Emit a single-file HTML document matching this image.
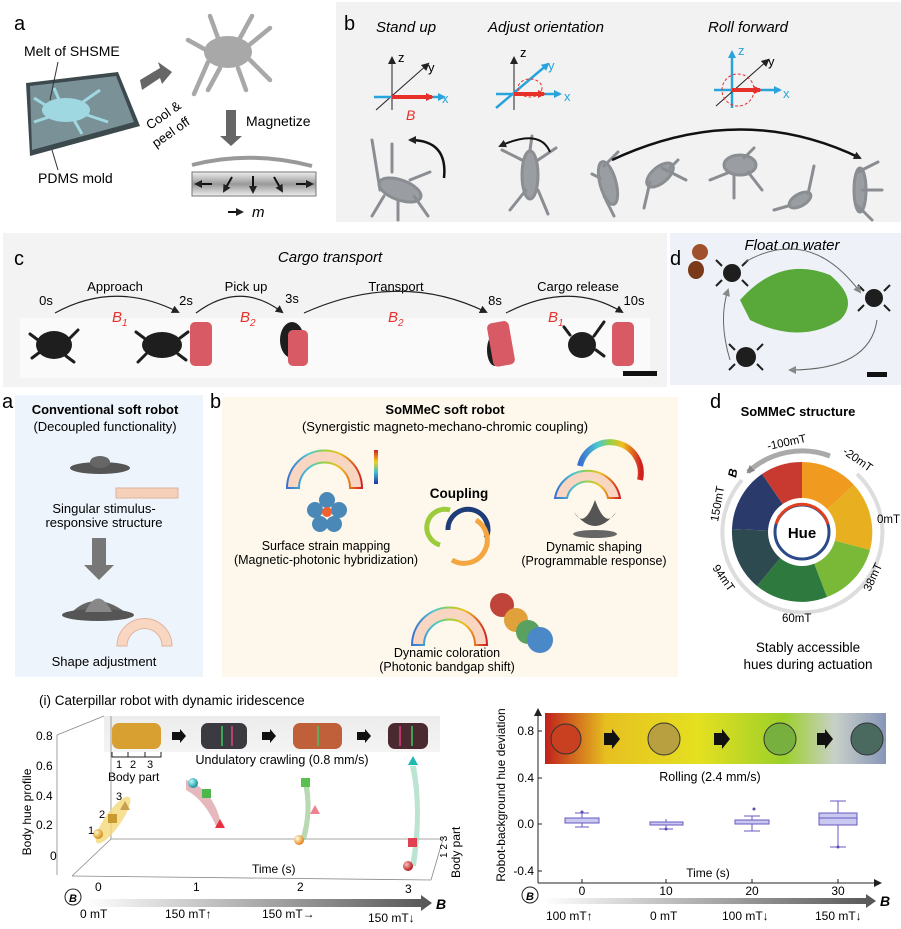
<!DOCTYPE html>
<html><head><meta charset="utf-8"><style>
html,body{margin:0;padding:0;background:#fff;}
svg{display:block;font-family:"Liberation Sans",Arial,sans-serif;}
</style></head><body>
<svg width="901" height="929" viewBox="0 0 901 929" xmlns="http://www.w3.org/2000/svg">
<defs>
<marker id="ah" markerWidth="8" markerHeight="8" refX="6" refY="4" orient="auto" markerUnits="userSpaceOnUse"><path d="M0,0 L8,4 L0,8 z" fill="#222"/></marker>
<marker id="ahb" markerWidth="8" markerHeight="8" refX="6" refY="4" orient="auto" markerUnits="userSpaceOnUse"><path d="M0,0 L8,4 L0,8 z" fill="#29a3dc"/></marker>
<marker id="ahr" markerWidth="8" markerHeight="8" refX="6" refY="4" orient="auto" markerUnits="userSpaceOnUse"><path d="M0,0 L8,4 L0,8 z" fill="#e8302a"/></marker>
<marker id="ahg" markerWidth="8" markerHeight="8" refX="6" refY="4" orient="auto" markerUnits="userSpaceOnUse"><path d="M0,0 L8,4 L0,8 z" fill="#888"/></marker>
<linearGradient id="gbar" x1="0" y1="0" x2="1" y2="0"><stop offset="0" stop-color="#fff"/><stop offset="1" stop-color="#555"/></linearGradient>
<linearGradient id="mag" x1="0" y1="0" x2="0" y2="1"><stop offset="0" stop-color="#eee"/><stop offset=".5" stop-color="#999"/><stop offset="1" stop-color="#eee"/></linearGradient>
<linearGradient id="roll" x1="0" y1="0" x2="1" y2="0"><stop offset="0" stop-color="#c0201c"/><stop offset=".18" stop-color="#e6c020"/><stop offset=".45" stop-color="#e5e020"/><stop offset=".7" stop-color="#9cd02a"/><stop offset=".85" stop-color="#c8d0c8"/><stop offset="1" stop-color="#8896b8"/></linearGradient>
<linearGradient id="rain" x1="0" y1="0" x2="1" y2="0"><stop offset="0" stop-color="#3b6fd0"/><stop offset=".3" stop-color="#4cc8d0"/><stop offset=".5" stop-color="#9ad040"/><stop offset=".7" stop-color="#f0c020"/><stop offset="1" stop-color="#d02020"/></linearGradient>
<linearGradient id="cbar" x1="0" y1="0" x2="0" y2="1"><stop offset="0" stop-color="#d02020"/><stop offset=".35" stop-color="#f0d020"/><stop offset=".65" stop-color="#40c0d0"/><stop offset="1" stop-color="#2030a0"/></linearGradient>
<linearGradient id="strip" x1="0" y1="0" x2="0" y2="1"><stop offset="0" stop-color="#ececec"/><stop offset="1" stop-color="#f4f4f4"/></linearGradient>
<radialGradient id="sph" cx=".35" cy=".35" r=".7"><stop offset="0" stop-color="#fff6c0"/><stop offset="1" stop-color="#d08a10"/></radialGradient>
<radialGradient id="sphT" cx=".35" cy=".35" r=".7"><stop offset="0" stop-color="#bff"/><stop offset="1" stop-color="#108898"/></radialGradient>
<radialGradient id="sphR" cx=".35" cy=".35" r=".7"><stop offset="0" stop-color="#fbb"/><stop offset="1" stop-color="#b01010"/></radialGradient>
<radialGradient id="sphO" cx=".35" cy=".35" r=".7"><stop offset="0" stop-color="#ffd"/><stop offset="1" stop-color="#e07a10"/></radialGradient>
</defs>

<!-- ===== Top panel a ===== -->
<text x="14" y="30" font-size="20">a</text>
<polygon points="26,83 118,72 140,126 30,156" fill="#3c4a4e"/>
<polygon points="30,86 116,76 134,122 32,150" fill="#7a9198"/>
<ellipse cx="66" cy="110" rx="24" ry="12" fill="#9fd8e0"/>
<path d="M50,108 l-16,-10 M52,116 l-18,6 M80,104 l20,-14 M84,114 l24,8 M60,102 l-6,-14 M74,120 l8,14" stroke="#9fd8e0" stroke-width="3" fill="none"/>
<text x="24" y="56" font-size="14">Melt of SHSME</text>
<line x1="58" y1="62" x2="50" y2="100" stroke="#333" stroke-width="1"/>
<text x="38" y="183" font-size="14">PDMS mold</text>
<line x1="58" y1="170" x2="52" y2="150" stroke="#333" stroke-width="1"/>
<polygon points="140,80 160,68 158,62 172,72 162,84 160,78 142,90" fill="#666"/>
<text x="150" y="130" font-size="13" transform="rotate(-35 150 130)">Cool &amp;</text>
<text x="156" y="148" font-size="13" transform="rotate(-35 156 148)">peel off</text>
<ellipse cx="228" cy="52" rx="24" ry="16" fill="#a8a8a8"/>
<path d="M206,50 l-18,-10 M208,62 l-14,32 M248,46 l22,-18 M250,60 l20,20 M220,68 l-12,22 M238,68 l8,22 M218,38 l-8,-22 M240,38 l12,-22" stroke="#a8a8a8" stroke-width="4.5" fill="none" stroke-linecap="round"/>
<polygon points="226,110 236,110 236,136 242,136 231,146 220,136 226,136" fill="#666"/>
<text x="246" y="126" font-size="14">Magnetize</text>
<path d="M192,165 Q250,150 312,166" stroke="#999" stroke-width="4" fill="none"/>
<rect x="192" y="172" width="124" height="24" fill="url(#mag)" stroke="#777"/>
<g stroke="#111" stroke-width="2" fill="none" marker-end="url(#ah)"><line x1="212" y1="184" x2="196" y2="184"/><line x1="232" y1="177" x2="224" y2="191"/><line x1="253" y1="176" x2="253" y2="192"/><line x1="274" y1="177" x2="282" y2="191"/><line x1="296" y1="184" x2="312" y2="184"/></g>
<line x1="228" y1="212" x2="242" y2="212" stroke="#111" stroke-width="2" marker-end="url(#ah)"/>
<text x="252" y="217" font-size="15" font-style="italic">m</text>

<!-- ===== Top panel b ===== -->
<rect x="336" y="2" width="565" height="220" fill="#f2f2f2"/>
<text x="344" y="30" font-size="20">b</text>
<text x="376" y="32" font-size="15" font-style="italic">Stand up</text>
<text x="488" y="32" font-size="15" font-style="italic">Adjust orientation</text>
<text x="708" y="32" font-size="15" font-style="italic">Roll forward</text>
<g stroke="#222" stroke-width="1" fill="none"><line x1="392" y1="110" x2="392" y2="58" marker-end="url(#ah)"/><line x1="376" y1="110" x2="428" y2="64" marker-end="url(#ah)"/></g>
<line x1="374" y1="97" x2="444" y2="97" stroke="#29a3dc" stroke-width="2.5" marker-end="url(#ahb)"/>
<line x1="392" y1="97" x2="432" y2="97" stroke="#e8302a" stroke-width="4" marker-end="url(#ahr)"/>
<text x="398" y="62" font-size="13">z</text><text x="428" y="72" font-size="13">y</text><text x="442" y="103" font-size="13" fill="#29a3dc">x</text>
<text x="406" y="120" font-size="14" font-style="italic" fill="#e8302a">B</text>
<g stroke="#222" stroke-width="1" fill="none"><line x1="514" y1="110" x2="514" y2="58" marker-end="url(#ah)"/></g>
<line x1="496" y1="108" x2="548" y2="64" stroke="#29a3dc" stroke-width="2.5" marker-end="url(#ahb)"/>
<line x1="496" y1="94" x2="560" y2="94" stroke="#29a3dc" stroke-width="2.5" marker-end="url(#ahb)"/>
<line x1="514" y1="94" x2="544" y2="94" stroke="#e8302a" stroke-width="4" marker-end="url(#ahr)"/>
<ellipse cx="530" cy="88" rx="12" ry="9" fill="none" stroke="#e8302a" stroke-dasharray="3,2"/>
<text x="520" y="57" font-size="13">z</text><text x="548" y="70" font-size="13" fill="#29a3dc">y</text><text x="564" y="101" font-size="13" fill="#29a3dc">x</text>
<line x1="732" y1="108" x2="732" y2="52" stroke="#29a3dc" stroke-width="2.5" marker-end="url(#ahb)"/>
<line x1="716" y1="106" x2="768" y2="60" stroke="#222" stroke-width="1" marker-end="url(#ah)"/>
<line x1="714" y1="90" x2="780" y2="90" stroke="#29a3dc" stroke-width="2.5" marker-end="url(#ahb)"/>
<line x1="732" y1="90" x2="760" y2="90" stroke="#e8302a" stroke-width="4" marker-end="url(#ahr)"/>
<circle cx="738" cy="90" r="16" fill="none" stroke="#e8302a" stroke-dasharray="3,2"/>
<text x="738" y="55" font-size="13" fill="#29a3dc">z</text><text x="768" y="66" font-size="13">y</text><text x="783" y="98" font-size="13" fill="#29a3dc">x</text>
<g fill="#9a9ea2" stroke="#8a8e92" stroke-width="3" stroke-linecap="round">
<ellipse cx="400" cy="190" rx="22" ry="10" transform="rotate(20 400 190)"/><path d="M380,190 l-8,-50 M384,196 l-12,20 M410,180 l20,-8 M414,196 l14,20 M398,200 l0,20 M392,172 l0,-28" fill="none"/>
<ellipse cx="530" cy="175" rx="8" ry="24"/><path d="M522,160 l-20,-10 M526,190 l-16,20 M538,160 l18,-12 M538,190 l10,24 M530,150 l2,-14" fill="none"/>
<ellipse cx="608" cy="183" rx="8" ry="22" transform="rotate(-15 608 183)"/><path d="M604,166 l14,-14 M604,196 l10,20 M600,178 l-8,-4" fill="none"/>
<ellipse cx="660" cy="175" rx="16" ry="8" transform="rotate(-40 660 175)"/><path d="M650,182 l-6,26 M662,168 l24,12 M670,168 l8,-8" fill="none"/>
<ellipse cx="740" cy="165" rx="16" ry="10"/><path d="M730,172 l-20,8 M748,172 l14,18 M744,158 l10,-10 M734,174 l0,24" fill="none"/>
<ellipse cx="800" cy="200" rx="12" ry="6" transform="rotate(-30 800 200)"/><path d="M788,206 l-14,4 M808,194 l6,-28" fill="none"/>
<ellipse cx="860" cy="190" rx="6" ry="22"/><path d="M858,172 l20,-10 M862,190 l20,0 M858,206 l14,14" fill="none"/>
</g>
<path d="M444,178 Q448,140 410,140" stroke="#111" stroke-width="2.5" fill="none" marker-end="url(#ah)"/>
<path d="M550,152 Q540,128 500,146" stroke="#111" stroke-width="2" fill="none" marker-end="url(#ah)"/>
<path d="M612,160 Q740,100 860,158" stroke="#111" stroke-width="2.5" fill="none" marker-end="url(#ah)"/>

<!-- ===== Panel c ===== -->
<rect x="3" y="233" width="664" height="154" fill="#f3f3f3"/>
<rect x="20" y="318" width="630" height="60" fill="#fafafa"/>
<text x="14" y="265" font-size="20">c</text>
<text x="330" y="262" font-size="15" font-style="italic" text-anchor="middle">Cargo transport</text>
<g font-size="13" text-anchor="middle"><text x="115" y="291">Approach</text><text x="246" y="291">Pick up</text><text x="396" y="291">Transport</text><text x="578" y="291">Cargo release</text>
<text x="46" y="305">0s</text><text x="186" y="305">2s</text><text x="292" y="303">3s</text><text x="495" y="305">8s</text><text x="634" y="305">10s</text></g>
<g stroke="#222" stroke-width="1.2" fill="none" marker-end="url(#ah)"><path d="M55,313 Q115,280 178,312"/><path d="M196,313 Q240,280 282,312"/><path d="M304,313 Q400,270 486,312"/><path d="M506,313 Q570,280 622,312"/></g>
<g font-size="15" font-style="italic" fill="#e8302a"><text x="112" y="322">B<tspan font-size="10" dy="4">1</tspan></text><text x="240" y="322">B<tspan font-size="10" dy="4">2</tspan></text><text x="388" y="322">B<tspan font-size="10" dy="4">2</tspan></text><text x="548" y="322">B<tspan font-size="10" dy="4">1</tspan></text></g>
<g fill="#1e1e1e"><ellipse cx="54" cy="345" rx="18" ry="14"/><ellipse cx="162" cy="345" rx="20" ry="13"/><ellipse cx="292" cy="340" rx="12" ry="18"/><ellipse cx="495" cy="350" rx="8" ry="16"/><ellipse cx="582" cy="345" rx="14" ry="13"/></g>
<g stroke="#1e1e1e" stroke-width="3" fill="none" stroke-linecap="round"><path d="M38,340 l-8,-6 M40,352 l-8,6 M70,338 l8,-8 M66,356 l8,6"/><path d="M144,338 l-8,-6 M146,354 l-8,8 M180,338 l8,-6 M178,354 l8,6"/><path d="M570,335 l-6,-8 M594,336 l10,-14 M596,350 l8,6"/></g>
<g fill="#d85a64"><rect x="190" y="322" width="22" height="44" rx="5"/><rect x="288" y="330" width="20" height="36" rx="5"/><rect x="490" y="322" width="22" height="44" rx="5" transform="rotate(-10 500 344)"/><rect x="612" y="322" width="22" height="44" rx="5"/></g>
<rect x="623" y="371" width="34" height="5" fill="#111"/>

<!-- ===== Panel d (top) ===== -->
<rect x="670" y="233" width="231" height="152" fill="#eef2f8"/>
<text x="670" y="265" font-size="20">d</text>
<text x="792" y="250" font-size="15" font-style="italic" text-anchor="middle">Float on water</text>
<ellipse cx="700" cy="252" rx="8" ry="8" fill="#a0502a"/><ellipse cx="696" cy="270" rx="8" ry="9" fill="#7a3a1a"/>
<path d="M740,300 Q780,255 830,275 Q860,300 840,320 Q800,345 750,320 Z" fill="#58a83a"/>
<g fill="#1e1e1e"><circle cx="732" cy="273" r="9"/><circle cx="874" cy="298" r="9"/><circle cx="746" cy="357" r="10"/></g>
<g stroke="#1e1e1e" stroke-width="2" fill="none"><path d="M722,266 l-6,-6 M742,266 l6,-6 M722,280 l-6,6 M742,280 l6,6"/><path d="M864,291 l-6,-6 M884,291 l6,-6 M864,305 l-6,6 M884,305 l6,6"/><path d="M735,350 l-6,-6 M757,350 l6,-6 M735,364 l-6,6 M757,364 l6,6"/></g>
<g stroke="#666" stroke-width="1" fill="none" marker-end="url(#ahg)"><path d="M745,262 Q810,225 860,292"/><path d="M877,320 Q870,370 790,370"/><path d="M730,360 Q718,320 728,290"/></g>
<rect x="867" y="372" width="20" height="5" fill="#111"/>

<!-- ===== Lower a ===== -->
<text x="2" y="408" font-size="20">a</text>
<rect x="15" y="395" width="188" height="282" fill="#eef4fb"/>
<text x="105" y="414" font-size="13" font-weight="bold" text-anchor="middle">Conventional soft robot</text>
<text x="105" y="431" font-size="13" text-anchor="middle">(Decoupled functionality)</text>
<ellipse cx="100" cy="468" rx="30" ry="6" fill="#555"/><ellipse cx="100" cy="462" rx="10" ry="6" fill="#666"/>
<rect x="116" y="488" width="62" height="10" fill="#f6d0b8" stroke="#d9b49c"/>
<text x="104" y="513" font-size="13" text-anchor="middle">Singular stimulus-</text>
<text x="104" y="527" font-size="13" text-anchor="middle">responsive structure</text>
<polygon points="92,538 106,538 106,565 114,565 99,580 84,565 92,565" fill="#777"/>
<path d="M72,612 Q95,590 125,612 Z" fill="#666"/><ellipse cx="98" cy="615" rx="36" ry="6" fill="#555"/><path d="M85,612 Q98,585 112,612" fill="#888"/>
<path d="M117,646 A20,20 0 0 1 172,646 L162,646 A12,12 0 0 0 127,646 Z" fill="#f9d6c2" stroke="#e0b49c"/>
<text x="104" y="666" font-size="13" text-anchor="middle">Shape adjustment</text>

<!-- ===== Lower b ===== -->
<text x="210" y="408" font-size="20">b</text>
<rect x="222" y="397" width="456" height="280" fill="#fdf8eb"/>
<text x="445" y="414" font-size="13" font-weight="bold" text-anchor="middle">SoMMeC soft robot</text>
<text x="445" y="431" font-size="13" text-anchor="middle">(Synergistic magneto-mechano-chromic coupling)</text>
<path d="M287,488 A37,37 0 0 1 362,488 L350,488 A25,25 0 0 0 299,488 Z" fill="#f9d6c2" stroke="url(#rain)" stroke-width="2"/>
<rect x="374" y="450" width="4" height="34" fill="url(#cbar)"/>
<g fill="#4a88b8"><circle cx="327" cy="500" r="8"/><circle cx="315" cy="510" r="8"/><circle cx="339" cy="510" r="8"/><circle cx="320" cy="524" r="8"/><circle cx="334" cy="524" r="8"/></g><circle cx="327" cy="512" r="5" fill="#f06030"/>
<text x="326" y="550" font-size="12.5" text-anchor="middle">Surface strain mapping</text>
<text x="326" y="564" font-size="12.5" text-anchor="middle">(Magnetic-photonic hybridization)</text>
<text x="459" y="498" font-size="13.5" font-weight="bold" text-anchor="middle">Coupling</text>
<path d="M440,545 A18,18 0 1 1 450,510" stroke="#9ccc3c" stroke-width="5" fill="none"/>
<path d="M486,538 A20,20 0 1 0 448,530" stroke="#1e3c78" stroke-width="5" fill="none"/>
<path d="M452,560 A18,18 0 1 0 476,520" stroke="#f4a640" stroke-width="5" fill="none"/>
<path d="M555,498 A33,33 0 0 1 620,498 L608,498 A21,21 0 0 0 567,498 Z" fill="#f9d6c2" stroke="url(#rain)" stroke-width="2"/>
<path d="M580,466 A22,22 0 0 1 640,480" stroke="url(#rain)" stroke-width="6" fill="none"/>
<path d="M574,512 Q595,540 616,512 Q606,530 595,500 Q584,530 574,512 Z" fill="#555"/><ellipse cx="595" cy="534" rx="22" ry="4" fill="#666"/>
<text x="594" y="551" font-size="12.5" text-anchor="middle">Dynamic shaping</text>
<text x="594" y="565" font-size="12.5" text-anchor="middle">(Programmable response)</text>
<path d="M412,645 A37,37 0 0 1 487,645 L475,645 A25,25 0 0 0 424,645 Z" fill="#f9d6c2" stroke="url(#rain)" stroke-width="2"/>
<g><circle cx="502" cy="605" r="12" fill="#c0443a"/><circle cx="516" cy="620" r="12" fill="#e0a03a"/><circle cx="528" cy="632" r="12" fill="#5aa060"/><circle cx="540" cy="640" r="13" fill="#4a88c8"/></g>
<text x="447" y="657" font-size="12.5" text-anchor="middle">Dynamic coloration</text>
<text x="447" y="671" font-size="12.5" text-anchor="middle">(Photonic bandgap shift)</text>

<!-- ===== Lower d ===== -->
<text x="710" y="408" font-size="20">d</text>
<text x="798" y="416" font-size="13" font-weight="bold" text-anchor="middle">SoMMeC structure</text>
<g transform="translate(802,532)">
<path d="M0,0 L0,-70 A70,70 0 0 1 52,-47 Z" fill="#f09a20"/>
<path d="M0,0 L52,-47 A70,70 0 0 1 68,18 Z" fill="#e8b020"/>
<path d="M0,0 L68,18 A70,70 0 0 1 25,65 Z" fill="#7ab838"/>
<path d="M0,0 L25,65 A70,70 0 0 1 -45,54 Z" fill="#2e7a3e"/>
<path d="M0,0 L-45,54 A70,70 0 0 1 -70,-3 Z" fill="#2c4a50"/>
<path d="M0,0 L-70,-3 A70,70 0 0 1 -40,-58 Z" fill="#2a3a6a"/>
<path d="M0,0 L-40,-58 A70,70 0 0 1 0,-70 Z" fill="#c83a30"/>
<circle r="34" fill="#fff"/>
<circle r="27" fill="none" stroke="#2a4a8a" stroke-width="3"/>
<path d="M-26,-8 A27,27 0 0 1 26,-8" stroke="#e04020" stroke-width="3" fill="none"/>
<text x="0" y="6" font-size="15" font-weight="bold" text-anchor="middle">Hue</text>
<path d="M-60,-52 A80,80 0 1 0 55,-58" stroke="#ddd" stroke-width="4" fill="none"/>
<path d="M28,-76 A80,80 0 0 0 -54,-60" stroke="#aaa" stroke-width="5" fill="none" marker-end="url(#ahg)"/>
</g>
<g font-size="11.5"><text x="768" y="450" transform="rotate(-12 768 450)">-100mT</text><text x="842" y="453" transform="rotate(35 842 453)">-20mT</text><text x="877" y="523">0mT</text><text x="870" y="592" transform="rotate(-65 870 592)">38mT</text><text x="782" y="622">60mT</text><text x="712" y="568" transform="rotate(55 712 568)">94mT</text><text x="718" y="522" transform="rotate(-80 718 522)">150mT</text></g>
<text x="736" y="478" font-size="12" font-weight="bold" font-style="italic" transform="rotate(-80 736 478)">B</text>
<text x="808" y="652" font-size="13.5" text-anchor="middle">Stably accessible</text>
<text x="808" y="669" font-size="13.5" text-anchor="middle">hues during actuation</text>

<!-- ===== Bottom left ===== -->
<text x="39" y="705" font-size="13.5">(i) Caterpillar robot with dynamic iridescence</text>
<rect x="104" y="716" width="336" height="36" fill="url(#strip)"/>
<g><rect x="112" y="723" width="49" height="26" rx="7" fill="#d8a030"/><rect x="201" y="723" width="46" height="26" rx="7" fill="#3a3a40"/><rect x="293" y="723" width="49" height="26" rx="7" fill="#c0603a"/><rect x="388" y="723" width="40" height="26" rx="7" fill="#4a2a30"/></g>
<g stroke="#3cc860" stroke-width="1.5"><line x1="222" y1="726" x2="222" y2="746"/><line x1="318" y1="726" x2="318" y2="746"/><line x1="412" y1="726" x2="412" y2="746"/></g>
<g stroke="#e04080" stroke-width="1.5"><line x1="232" y1="726" x2="232" y2="746"/><line x1="400" y1="726" x2="400" y2="746"/></g>
<g fill="#111"><polygon points="172,732 180,732 180,729 186,736 180,743 180,740 172,740"/><polygon points="262,732 270,732 270,729 276,736 270,743 270,740 262,740"/><polygon points="357,732 365,732 365,729 371,736 365,743 365,740 357,740"/></g>
<path d="M112,752 v5 h49 v-5 M128,752 v5 M145,752 v5" stroke="#222" fill="none"/>
<text x="116" y="768" font-size="11">1</text><text x="130" y="768" font-size="11">2</text><text x="147" y="768" font-size="11">3</text>
<text x="108" y="781" font-size="12">Body part</text>
<text x="282" y="764" font-size="12.5" text-anchor="middle">Undulatory crawling (0.8 mm/s)</text>
<g stroke="#888" stroke-width="0.8" fill="none"><line x1="57" y1="735" x2="57" y2="875"/><line x1="57" y1="735" x2="104" y2="716"/><line x1="111" y1="716" x2="111" y2="839"/><line x1="111" y1="839" x2="443" y2="839"/><line x1="72" y1="876" x2="431" y2="880"/><line x1="72" y1="876" x2="111" y2="839"/><line x1="431" y1="880" x2="443" y2="839"/></g>
<g font-size="12"><text x="36" y="740">0.8</text><text x="36" y="770">0.6</text><text x="36" y="800">0.4</text><text x="36" y="829">0.2</text><text x="50" y="860">0</text>
<text x="95" y="891">0</text><text x="193" y="891">1</text><text x="297" y="891">2</text><text x="405" y="893">3</text></g>
<text x="31" y="812" font-size="12" text-anchor="middle" transform="rotate(-90 31 812)">Body hue profile</text>
<text x="252" y="873" font-size="12">Time (s)</text>
<text x="460" y="878" font-size="12" transform="rotate(-90 460 878)">Body part</text>
<text x="447" y="858" font-size="10" transform="rotate(-90 447 858)">1 2 3</text>
<ellipse cx="113" cy="820" rx="8" ry="28" fill="#f2d878" opacity=".8" transform="rotate(35 113 820)"/>
<circle cx="98" cy="834" r="5" fill="url(#sph)"/><rect x="108" y="814" width="9" height="9" fill="#c89a30"/><polygon points="125,801 130,810 120,810" fill="#c8a050"/>
<text x="88" y="834" font-size="11">1</text><text x="99" y="818" font-size="11">2</text><text x="116" y="800" font-size="11">3</text>
<path d="M186,780 Q215,790 222,828 L217,828 Q205,800 186,790 Z" fill="#d89aa0" opacity=".7"/>
<circle cx="193" cy="783" r="5" fill="url(#sphT)"/><rect x="202" y="789" width="9" height="9" fill="#4cb84c"/><polygon points="220,819 225,828 215,828" fill="#e83040"/>
<path d="M302,780 Q310,810 300,840 L306,840 Q314,810 308,780 Z" fill="#a8d0a0" opacity=".8"/>
<rect x="301" y="778" width="9" height="9" fill="#5ac050"/><polygon points="315,805 320,814 310,814" fill="#f08090"/><circle cx="299" cy="840" r="5" fill="url(#sphO)"/>
<path d="M410,766 Q420,810 410,866 L416,866 Q424,810 416,766 Z" fill="#a0d8c0" opacity=".7"/>
<polygon points="413,756 418,765 408,765" fill="#20b8b0"/><rect x="408" y="838" width="9" height="9" fill="#e04050"/><circle cx="408" cy="866" r="5" fill="url(#sphR)"/>
<polygon points="86,899 421,899 421,895 432,903 421,911 421,907 86,907" fill="url(#gbar)"/>
<text x="436" y="909" font-size="14" font-weight="bold" font-style="italic">B</text>
<circle cx="73" cy="897" r="8" fill="none" stroke="#222"/><text x="69" y="902" font-size="11" font-weight="bold" font-style="italic">B</text>
<g font-size="12"><text x="80" y="918">0 mT</text><text x="165" y="918">150 mT↑</text><text x="262" y="918">150 mT→</text><text x="368" y="922">150 mT↓</text></g>

<!-- ===== Bottom right ===== -->
<g stroke="#222" stroke-width="1" fill="none"><line x1="538" y1="883" x2="538" y2="710" marker-end="url(#ah)"/><line x1="538" y1="883" x2="880" y2="883" marker-end="url(#ah)"/>
<line x1="538" y1="731" x2="542" y2="731"/><line x1="538" y1="778" x2="542" y2="778"/><line x1="538" y1="824" x2="542" y2="824"/><line x1="538" y1="871" x2="542" y2="871"/>
<line x1="582" y1="883" x2="582" y2="879"/><line x1="666" y1="883" x2="666" y2="879"/><line x1="752" y1="883" x2="752" y2="879"/><line x1="838" y1="883" x2="838" y2="879"/></g>
<g font-size="12" text-anchor="end"><text x="534" y="735">0.8</text><text x="534" y="782">0.4</text><text x="534" y="828">0.0</text><text x="534" y="875">-0.4</text></g>
<text x="505" y="795" font-size="12" text-anchor="middle" transform="rotate(-90 505 795)">Robot-background hue deviation</text>
<rect x="545" y="713" width="341" height="51" fill="url(#roll)"/>
<g stroke="#333" stroke-width="1"><circle cx="566" cy="739" r="15" fill="#c84020"/><circle cx="664" cy="739" r="16" fill="#b8a040"/><circle cx="780" cy="739" r="16" fill="#78b040"/><circle cx="867" cy="739" r="16" fill="#4a6a60"/></g>
<g fill="#111"><polygon points="604,733 612,733 612,729 620,739 612,749 612,745 604,745"/><polygon points="714,733 722,733 722,729 730,739 722,749 722,745 714,745"/><polygon points="817,733 825,733 825,729 833,739 825,749 825,745 817,745"/></g>
<text x="710" y="781" font-size="12.5" text-anchor="middle">Rolling (2.4 mm/s)</text>
<g stroke="#6a5ac0" stroke-width="1" fill="#c8c8f0">
<line x1="582" y1="813" x2="582" y2="827"/><line x1="575" y1="813" x2="589" y2="813"/><line x1="575" y1="827" x2="589" y2="827"/><rect x="565" y="818" width="34" height="5"/>
<line x1="666" y1="819" x2="666" y2="829"/><line x1="659" y1="829" x2="673" y2="829"/><rect x="650" y="822" width="33" height="3"/>
<line x1="752" y1="816" x2="752" y2="831"/><line x1="744" y1="831" x2="760" y2="831"/><line x1="744" y1="816" x2="760" y2="816"/><rect x="735" y="820" width="34" height="4"/>
<line x1="838" y1="801" x2="838" y2="847"/><line x1="830" y1="801" x2="846" y2="801"/><line x1="830" y1="847" x2="846" y2="847"/><rect x="819" y="813" width="38" height="12"/><line x1="819" y1="818" x2="857" y2="818"/>
</g>
<g fill="#5a4ab0"><circle cx="582" cy="812" r="1.5"/><circle cx="666" cy="829" r="1.5"/><circle cx="754" cy="809" r="1.5"/><circle cx="838" cy="847" r="1.5"/></g>
<text x="708" y="877" font-size="12" text-anchor="middle">Time (s)</text>
<g font-size="12" text-anchor="middle"><text x="582" y="895">0</text><text x="666" y="895">10</text><text x="752" y="895">20</text><text x="838" y="895">30</text></g>
<polygon points="543,898 866,898 866,894 876,901 866,908 866,904 543,904" fill="url(#gbar)"/>
<text x="880" y="906" font-size="14" font-weight="bold" font-style="italic">B</text>
<circle cx="530" cy="895" r="8" fill="none" stroke="#222"/><text x="526" y="900" font-size="11" font-weight="bold" font-style="italic">B</text>
<g font-size="12"><text x="546" y="920">100 mT↑</text><text x="650" y="920">0 mT</text><text x="722" y="920">100 mT↓</text><text x="815" y="920">150 mT↓</text></g>
</svg>
</body></html>
